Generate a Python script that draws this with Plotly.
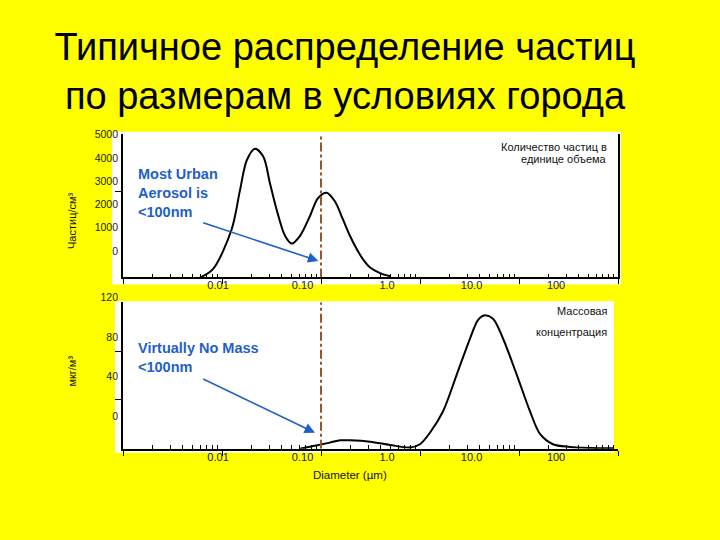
import math
import plotly.graph_objects as go

# ---------------- data ----------------
# particle number distribution (top panel)
number_diam_um = [0.0060, 0.0081, 0.0125, 0.0152, 0.0178, 0.0215, 0.0261, 0.0305, 0.0357,
                  0.0433, 0.0506, 0.0614, 0.0774, 0.0933, 0.114, 0.138, 0.167, 0.196,
                  0.230, 0.266, 0.313, 0.395, 0.50]
number_conc = [0, 290, 1670, 3040, 4080, 4480, 4210, 3280, 2350,
               1450, 1180, 1450, 2140, 2760, 2950, 2650, 2010, 1450,
               980, 630, 345, 150, 40]

# mass distribution (bottom panel)
mass_diam_um = [0.061, 0.123, 0.156, 0.196, 0.313, 0.498, 0.79, 1.0, 1.26, 1.71, 2.35,
                3.2, 3.85, 4.43, 5.46, 6.89, 9.48, 12.9, 16.3, 22.0, 32.7, 90]
mass_conc = [0, 5.1, 7.0, 7.0, 5.9, 3.2, 1.1, 3.8, 13.2, 30.8, 60.8,
             90.3, 105.4, 109.2, 106.5, 90.3, 60.8, 30.8, 12.2, 3.8, 1.6, 0.4]

cutoff_um = 0.1
number_max = 5000
mass_max = 120

x_major = [0.001, 0.01, 0.1, 1, 10, 100]
x_minor = [m * 10.0 ** e for e in range(-3, 2) for m in range(2, 10)]
x_label_vals = [0.01, 0.1, 1, 10, 100]
x_label_text = ["0.01", "0.10", "1.0", "10.0", "100"]
number_label_vals = [0, 1000, 2000, 3000, 4000, 5000]
number_tick_vals = [3000]
mass_label_vals = [0, 40, 80, 120]
mass_tick_vals = [40, 80]

title_lines = ["Типичное распределение частиц", "по размерам в условиях города"]

# ---------------- layout helpers (pixel -> paper) ----------------
W, H = 720, 540
L, R = 123, 618
def fx(px):
    return (px - L) / (R - L)
def fy(py):
    return (H - py) / H

FONT = "Liberation Sans, Arial, sans-serif"
BLUE = "#1f5fc8"
BROWN = "#a0522d"

fig = go.Figure()

fig.add_trace(go.Scatter(x=number_diam_um, y=number_conc, xaxis="x", yaxis="y",
                         mode="lines", line=dict(color="black", width=2, shape="spline", smoothing=0.9),
                         hoverinfo="skip"))
fig.add_trace(go.Scatter(x=[cutoff_um, cutoff_um], y=[0, number_max], xaxis="x", yaxis="y",
                         mode="lines", line=dict(color=BROWN, width=2, dash="dashdot"),
                         hoverinfo="skip"))
fig.add_trace(go.Scatter(x=mass_diam_um, y=mass_conc, xaxis="x2", yaxis="y2",
                         mode="lines", line=dict(color="black", width=2, shape="spline", smoothing=0.9),
                         hoverinfo="skip"))
fig.add_trace(go.Scatter(x=[cutoff_um, cutoff_um], y=[0, mass_max], xaxis="x2", yaxis="y2",
                         mode="lines", line=dict(color=BROWN, width=2, dash="dashdot"),
                         hoverinfo="skip"))
# empty traces so that the (shifted) label axes get drawn
for xa, ya in [("x3", "y"), ("x", "y3"), ("x4", "y2"), ("x2", "y4")]:
    fig.add_trace(go.Scatter(x=[], y=[], xaxis=xa, yaxis=ya, mode="lines", hoverinfo="skip"))

common_x = dict(type="log", range=[-3, 2], showline=True, linecolor="black", linewidth=1.5,
                ticks="outside", ticklen=5, tickcolor="black", tickwidth=1.2,
                tickvals=x_major, showticklabels=False, showgrid=False, zeroline=False,
                minor=dict(tickmode="array", tickvals=x_minor, ticks="inside", ticklen=4,
                           tickcolor="black", tickwidth=1, showgrid=False))
label_x = dict(type="log", range=[-3.125, 2.733], tickmode="array", tickvals=x_label_vals,
               ticktext=x_label_text, ticks="", showline=False, showgrid=False, zeroline=False,
               tickfont=dict(family=FONT, size=11, color="#222"), side="bottom")
label_y = dict(ticks="", showline=False, showgrid=False, zeroline=False, side="left",
               tickmode="array", tickfont=dict(family=FONT, size=10.5, color="#222"),
               ticklabelstandoff=4)

top_dom = [fy(275), fy(130)]
bot_dom = [fy(448), fy(300)]

fig.update_layout(
    width=W, height=H,
    margin=dict(l=L, r=W - R, t=0, b=0),
    paper_bgcolor="#ffff00",
    plot_bgcolor="rgba(0,0,0,0)",
    showlegend=False,
    font=dict(family=FONT, color="black"),
    title=dict(text="<br>".join(title_lines), x=345 / W, xanchor="center", xref="container",
               y=fy(60), yanchor="middle", yref="container",
               font=dict(family=FONT, size=38, color="black")),
    xaxis=dict(domain=[0, 1], anchor="y", **common_x),
    yaxis=dict(domain=top_dom, anchor="x", range=[0, number_max], showline=True, mirror=True,
               linecolor="black", linewidth=1.5, ticks="outside", ticklen=6, tickcolor="black",
               tickvals=number_tick_vals, showticklabels=False, showgrid=False, zeroline=False),
    xaxis3=dict(overlaying="x", anchor="y", **label_x),
    yaxis3=dict(overlaying="y", anchor="x", range=[-1138, 5043], tickvals=number_label_vals, **label_y),
    xaxis2=dict(domain=[0, 1], anchor="y2", **common_x),
    yaxis2=dict(domain=bot_dom, anchor="x2", range=[0, mass_max], showline=True,
                linecolor="black", linewidth=1.5, ticks="outside", ticklen=6, tickcolor="black",
                tickvals=mass_tick_vals, showticklabels=False, showgrid=False, zeroline=False),
    xaxis4=dict(overlaying="x2", anchor="y2", **label_x),
    yaxis4=dict(domain=[fy(448), fy(292)], anchor="x2", range=[-33, 123],
                tickvals=mass_label_vals, **label_y),
)

# white panels behind the plots
fig.add_shape(type="rect", xref="paper", yref="paper", x0=fx(112), x1=fx(621), y0=fy(282), y1=fy(128),
              fillcolor="white", line_width=0, layer="below")
fig.add_shape(type="rect", xref="paper", yref="paper", x0=fx(115), x1=fx(614), y0=fy(452), y1=fy(299),
              fillcolor="white", line_width=0, layer="below")

# arrows (data coordinates; log axes use log10 for annotations)
fig.add_annotation(x=math.log10(0.094), y=576, ax=math.log10(0.00624), ay=1920,
                   xref="x", yref="y", axref="x", ayref="y", text="", showarrow=True,
                   arrowhead=2, arrowsize=1.3, arrowwidth=1.6, arrowcolor=BLUE)
fig.add_annotation(x=math.log10(0.0869), y=13.2, ax=math.log10(0.00624), ay=57.8,
                   xref="x2", yref="y2", axref="x2", ayref="y2", text="", showarrow=True,
                   arrowhead=2, arrowsize=1.3, arrowwidth=1.6, arrowcolor=BLUE)

def note(text, px, py, size, color="black", xanchor="left", angle=0, bold=False, align="left"):
    fig.add_annotation(x=fx(px), y=fy(py), xref="paper", yref="paper", text=text,
                       showarrow=False, xanchor=xanchor, yanchor="middle", align=align,
                       textangle=angle,
                       font=dict(family=FONT, size=size, color=color,
                                 weight="bold" if bold else "normal"))

note("Most Urban<br>Aerosol is<br>&lt;100nm", 136, 190, 14.5, BLUE, bold=True)
note("Virtually No Mass<br>&lt;100nm", 136, 356, 14.5, BLUE, bold=True)
note("Количество частиц в", 609, 143.5, 11, "#111", xanchor="right")
note("единице объема", 609, 155.5, 11, "#111", xanchor="right")
note("Массовая", 609, 309, 11, "#111", xanchor="right")
note("концентрация", 609, 330, 11, "#111", xanchor="right")
note("Частиц/см³", 72, 218, 11, "#111", xanchor="center", angle=-90)
note("мкг/м³", 72, 370, 11, "#111", xanchor="center", angle=-90)
note("Diameter (µm)", 350, 474, 11.5, "#111", xanchor="center")

fig.write_html("out.html", config={"displayModeBar": False},
               post_script="document.body.style.margin='0';document.body.style.overflow='hidden';")
